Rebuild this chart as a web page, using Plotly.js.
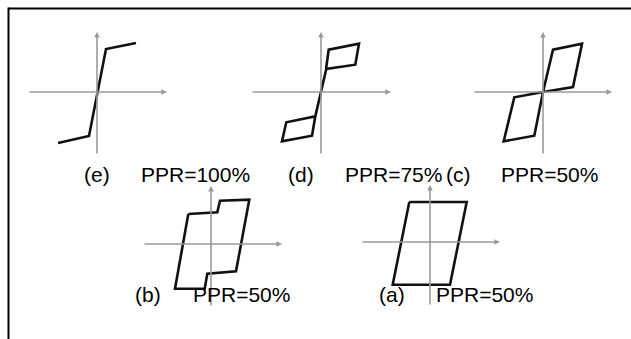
<!DOCTYPE html>
<html>
<head>
<meta charset="utf-8">
<script src="https://cdn.plot.ly/plotly-3.0.1.min.js"></script>
<style>
  html, body { margin: 0; padding: 0; background: #ffffff; }
  #chart { width: 631px; height: 339px; }
</style>
</head>
<body>
<div id="chart"></div>
<script>
// ---- Data (normalized displacement / force for each hysteresis model) ----
const panelIds   = ['e', 'd', 'c', 'b', 'a'];
const panelTags  = ['(e)', '(d)', '(c)', '(b)', '(a)'];
const pprLabels  = ['PPR=100%', 'PPR=75%', 'PPR=50%', 'PPR=50%', 'PPR=50%'];

const eDisp  = [-39, -8, 9, 39];
const eForce = [-51, -44, 43, 49];

const dDisp  = [5, 7.7, 38, 34.3, 5.3, -5.7, -34.7, -39, -9, -5.7];
const dForce = [23, 42.3, 48.3, 27.3, 23, -24.3, -30.3, -49.3, -43.7, -24.3];

const cDisp  = [0, 10, 39, 30, 0, -28.7, -39.3, -8.7, 0];
const cForce = [0, 42.3, 48.3, 5, 0, -5.3, -49.3, -43.7, 0];

const bDisp  = [-22.7, 6.3, 9, 38.3, 25, -3.7, -6.3, -36, -22.7];
const bForce = [30, 31.7, 43.3, 44.3, -27.3, -29.7, -44.7, -44.7, 30];

const aDisp  = [-20.7, 36.7, 20, -37.3, -20.7];
const aForce = [40, 40, -42.7, -42.7, 40];

const loopsX = [eDisp, dDisp, cDisp, bDisp, aDisp];
const loopsY = [eForce, dForce, cForce, bForce, aForce];

// ---- Layout geometry (pixels in the 631x339 canvas) ----
const W = 631, H = 339;
// per panel: axis pixel extents and origin
const geom = [
  { x0: 28,  x1: 167, ox: 97,  y0: 32,  y1: 155, oy: 92,  tagX: 82,  pprX: 139, textY: 175 },
  { x0: 251, x1: 391, ox: 321, y0: 32,  y1: 155, oy: 92,  tagX: 286, pprX: 343, textY: 175 },
  { x0: 473, x1: 612, ox: 543, y0: 32,  y1: 155, oy: 92,  tagX: 444, pprX: 499, textY: 175 },
  { x0: 143, x1: 282, ox: 211, y0: 186, y1: 307, oy: 244, tagX: 133, pprX: 191, textY: 294 },
  { x0: 361, x1: 500, ox: 430, y0: 185, y1: 306, oy: 242, tagX: 377, pprX: 434, textY: 294 }
];

const traces = [];
const layout = {
  width: W, height: H,
  margin: { l: 0, r: 0, t: 0, b: 0 },
  paper_bgcolor: '#ffffff',
  plot_bgcolor: 'rgba(0,0,0,0)',
  showlegend: false,
  font: { family: 'Arial, "Liberation Sans", sans-serif', color: '#000000' },
  annotations: [],
  shapes: [
    { type: 'line', xref: 'paper', yref: 'paper', x0: 8.5 / W, x1: 1, y0: 1 - 8.5 / H, y1: 1 - 8.5 / H,
      line: { color: '#000000', width: 2 } },
    { type: 'line', xref: 'paper', yref: 'paper', x0: 8.5 / W, x1: 8.5 / W, y0: 1 - 7.5 / H, y1: 0,
      line: { color: '#000000', width: 2 } }
  ]
};

panelIds.forEach((id, i) => {
  const g = geom[i];
  const n = i + 1;
  const xa = n === 1 ? 'x' : 'x' + n;
  const ya = n === 1 ? 'y' : 'y' + n;
  const xKey = n === 1 ? 'xaxis' : 'xaxis' + n;
  const yKey = n === 1 ? 'yaxis' : 'yaxis' + n;
  const xr = [g.x0 - g.ox, g.x1 - g.ox];
  const yr = [g.oy - g.y1, g.oy - g.y0];

  layout[xKey] = {
    domain: [g.x0 / W, g.x1 / W], range: xr, anchor: ya,
    visible: false, fixedrange: true
  };
  layout[yKey] = {
    domain: [1 - g.y1 / H, 1 - g.y0 / H], range: yr, anchor: xa,
    visible: false, fixedrange: true
  };

  // gray coordinate axes with arrowheads
  layout.annotations.push({
    xref: xa, yref: ya, axref: xa, ayref: ya,
    x: xr[1], y: 0, ax: xr[0], ay: 0,
    text: '', showarrow: true, arrowhead: 2, arrowsize: 0.7, arrowwidth: 1.6,
    arrowcolor: '#9a9a9a', standoff: 0, startstandoff: 0
  });
  layout.annotations.push({
    xref: xa, yref: ya, axref: xa, ayref: ya,
    x: 0, y: yr[1], ax: 0, ay: yr[0],
    text: '', showarrow: true, arrowhead: 2, arrowsize: 0.7, arrowwidth: 1.6,
    arrowcolor: '#9a9a9a', standoff: 0, startstandoff: 0
  });

  // hysteresis loop
  traces.push({
    type: 'scatter', mode: 'lines',
    x: loopsX[i], y: loopsY[i],
    xaxis: xa, yaxis: ya,
    line: { color: '#111111', width: 2.6 },
    hoverinfo: 'skip', cliponaxis: false
  });

  // labels
  layout.annotations.push({
    xref: 'paper', yref: 'paper', x: g.tagX / W, y: 1 - g.textY / H,
    xanchor: 'left', yanchor: 'middle', showarrow: false,
    text: panelTags[i], font: { size: 21, color: '#000000' }
  });
  layout.annotations.push({
    xref: 'paper', yref: 'paper', x: g.pprX / W, y: 1 - g.textY / H,
    xanchor: 'left', yanchor: 'middle', showarrow: false,
    text: pprLabels[i], font: { size: 21, color: '#000000' }
  });
});

Plotly.newPlot('chart', traces, layout, { displayModeBar: false, staticPlot: true });
</script>
</body>
</html>
